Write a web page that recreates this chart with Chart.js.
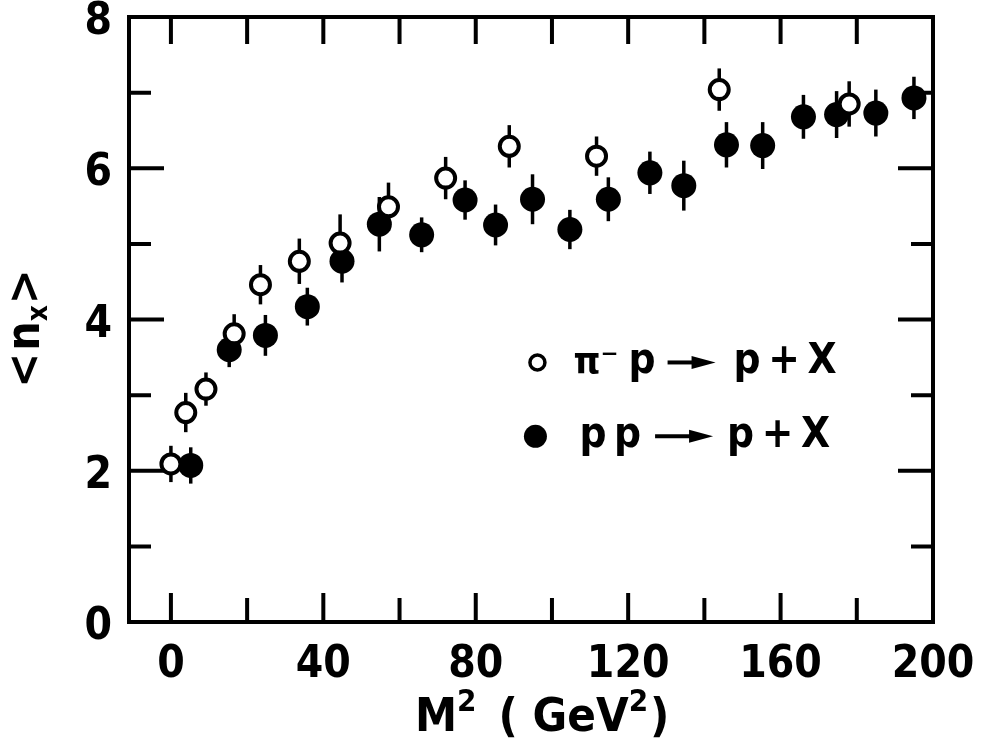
<!DOCTYPE html>
<html>
<head>
<meta charset="utf-8">
<script src="https://cdn.jsdelivr.net/npm/chart.js@4/dist/chart.umd.min.js"></script>
<style>
  body { margin: 0; background: #fff; }
  #wrap { width: 988px; height: 753px; position: relative; }
</style>
</head>
<body>
<div id="wrap"><canvas id="chart"></canvas></div>
<script>
// pi- p -> p + X  (open circles)
const piM2 = [0, 3.9, 9.2, 16.6, 23.5, 33.7, 44.4, 57.1, 72.1, 88.8, 111.7, 143.9, 178];
const piN = [2.09, 2.77, 3.08, 3.81, 4.46, 4.77, 5.01, 5.49, 5.87, 6.29, 6.16, 7.04, 6.85];
const piErr = [0.24, 0.26, 0.22, 0.26, 0.26, 0.3, 0.38, 0.32, 0.28, 0.28, 0.26, 0.28, 0.3];

// p p -> p + X  (filled circles)
const ppM2 = [5.2, 15.3, 24.8, 35.8, 44.9, 54.7, 65.8, 77.2, 85.2, 94.9, 104.7, 114.8, 125.7, 134.6, 145.8, 155.3, 166, 174.7, 185, 195];
const ppN = [2.07, 3.6, 3.79, 4.17, 4.77, 5.26, 5.12, 5.58, 5.25, 5.59, 5.19, 5.59, 5.94, 5.77, 6.31, 6.3, 6.68, 6.71, 6.73, 6.93];
const ppErr = [0.24, 0.23, 0.27, 0.25, 0.28, 0.36, 0.23, 0.26, 0.27, 0.33, 0.26, 0.29, 0.28, 0.33, 0.3, 0.31, 0.29, 0.31, 0.31, 0.28];

// axis ticks and labels
const xTickVals = [0, 20, 40, 60, 80, 100, 120, 140, 160, 180];
const xLabelVals = [0, 40, 80, 120, 160, 200];
const yTickVals = [1, 2, 3, 4, 5, 6, 7];
const yLabelVals = [0, 2, 4, 6, 8];
const legendLabels = ["\u03c0\u207b p \u2192 p + X", "p p \u2192 p + X"];

const FONT = '"DejaVu Sans Condensed", "DejaVu Sans", sans-serif';

function toPoints(xs, ys) {
  return xs.map((x, i) => ({ x: x, y: ys[i] }));
}

// vertical error bars drawn behind the markers
const errorBars = {
  id: "errorBars",
  beforeDatasetsDraw(chart) {
    const ctx = chart.ctx;
    const xs = chart.scales.x, ys = chart.scales.y;
    const sets = [[piM2, piN, piErr], [ppM2, ppN, ppErr]];
    ctx.save();
    ctx.strokeStyle = "#000";
    ctx.lineWidth = 3.5;
    sets.forEach(([mx, ny, er]) => {
      mx.forEach((m, i) => {
        const px = xs.getPixelForValue(m);
        ctx.beginPath();
        ctx.moveTo(px, ys.getPixelForValue(ny[i] - er[i]));
        ctx.lineTo(px, ys.getPixelForValue(ny[i] + er[i]));
        ctx.stroke();
      });
    });
    ctx.restore();
  },
};

// text with raised (sup) or lowered (sub) pieces, returns end x
function drawPieces(ctx, pieces, x, y) {
  pieces.forEach(p => {
    ctx.font = "bold " + p.size + "px " + FONT;
    ctx.fillText(p.t, x, y + (p.dy || 0));
    x += ctx.measureText(p.t).width + (p.gap || 0);
  });
  return x;
}

function arrow(ctx, x0, x1, y) {
  ctx.beginPath();
  ctx.moveTo(x0, y);
  ctx.lineTo(x1 - 18, y);
  ctx.stroke();
  ctx.beginPath();
  ctx.moveTo(x1 - 24, y - 6.5);
  ctx.lineTo(x1, y);
  ctx.lineTo(x1 - 24, y + 6.5);
  ctx.closePath();
  ctx.fill();
}

// frame with inward ticks, tick labels, axis titles and legend
const frame = {
  id: "frame",
  afterDraw(chart) {
    const ctx = chart.ctx;
    const a = chart.chartArea;
    const xs = chart.scales.x, ys = chart.scales.y;
    ctx.save();
    ctx.strokeStyle = "#000";
    ctx.fillStyle = "#000";
    ctx.lineWidth = 4;
    ctx.strokeRect(a.left, a.top, a.right - a.left, a.bottom - a.top);

    // x ticks top and bottom
    xTickVals.forEach(v => {
      const px = xs.getPixelForValue(v);
      const len = v % 40 === 0 ? 29 : 24;
      ctx.beginPath();
      ctx.moveTo(px, a.bottom); ctx.lineTo(px, a.bottom - len);
      ctx.moveTo(px, a.top); ctx.lineTo(px, a.top + 27);
      ctx.stroke();
    });
    // y ticks left and right
    yTickVals.forEach(v => {
      const py = ys.getPixelForValue(v);
      const len = v % 2 === 0 ? 35 : 22;
      ctx.beginPath();
      ctx.moveTo(a.left, py); ctx.lineTo(a.left + len, py);
      ctx.moveTo(a.right, py); ctx.lineTo(a.right - len, py);
      ctx.stroke();
    });

    // tick labels
    ctx.font = "bold 44px " + FONT;
    ctx.textAlign = "center";
    ctx.textBaseline = "alphabetic";
    xLabelVals.forEach(v => {
      ctx.fillText(String(v), xs.getPixelForValue(v), a.bottom + 55);
    });
    ctx.textAlign = "right";
    yLabelVals.forEach(v => {
      ctx.fillText(String(v), a.left - 17, ys.getPixelForValue(v) + 17);
    });

    // x title: M^2 ( GeV^2 )
    ctx.textAlign = "left";
    drawPieces(ctx, [
      { t: "M", size: 47 },
      { t: "2", size: 31, dy: -20, gap: 22 },
      { t: "( GeV", size: 47 },
      { t: "2", size: 31, dy: -20, gap: 2 },
      { t: ")", size: 47 },
    ], a.left + 286, a.bottom + 109);

    // y title: <n_x>  (rotated, subscript x)
    ctx.save();
    ctx.translate(43, (a.top + a.bottom) / 2 + 10);
    ctx.rotate(-Math.PI / 2);
    drawPieces(ctx, [
      { t: "<", size: 46, gap: 2 },
      { t: "n", size: 46 },
      { t: "x", size: 28, dy: 8, gap: 1 },
      { t: ">", size: 46 },
    ], -58, -4);
    ctx.restore();

    // legend
    const lx = a.left + (a.right - a.left) * 0.508;
    const ly1 = a.top + (a.bottom - a.top) * 0.571;
    const ly2 = a.top + (a.bottom - a.top) * 0.693;
    ctx.lineWidth = 3.5;
    ctx.fillStyle = "#fff";
    ctx.beginPath();
    ctx.arc(lx, ly1, 7.5, 0, Math.PI * 2);
    ctx.fill(); ctx.stroke();
    ctx.fillStyle = "#000";
    ctx.beginPath();
    ctx.arc(lx - 2, ly2, 11.5, 0, Math.PI * 2);
    ctx.fill();

    ctx.lineWidth = 4;
    const parts1 = legendLabels[0].split(" \u2192 ");
    const parts2 = legendLabels[1].split(" \u2192 ");
    // line 1: pi- p -> p + X
    let ex = drawPieces(ctx, [
      { t: "\u03c0", size: 38 },
      { t: "\u207b", size: 38, gap: 10 },
      { t: parts1[0].split(" ")[1], size: 42 },
    ], lx + 36, ly1 + 11);
    arrow(ctx, ex + 12, ex + 60, ly1);
    drawPieces(ctx, [{ t: parts1[1].replace(/ /g, "\u2009"), size: 42 }], ex + 78, ly1 + 11);
    // line 2: p p -> p + X
    ex = drawPieces(ctx, [{ t: parts2[0].replace(" ", "\u2009"), size: 42 }], lx + 42, ly2 + 11);
    arrow(ctx, ex + 14, ex + 72, ly2);
    drawPieces(ctx, [{ t: parts2[1].replace(/ /g, "\u2009"), size: 42 }], ex + 86, ly2 + 11);
    ctx.restore();
  },
};

const ctx = document.getElementById("chart").getContext("2d");
new Chart(ctx, {
  type: "scatter",
  data: {
    datasets: [
      {
        label: legendLabels[0],
        data: toPoints(piM2, piN),
        pointRadius: 9.5,
        pointBorderWidth: 4,
        pointBackgroundColor: "#fff",
        pointBorderColor: "#000",
      },
      {
        label: legendLabels[1],
        data: toPoints(ppM2, ppN),
        pointRadius: 12.5,
        pointBorderWidth: 0,
        pointBackgroundColor: "#000",
        pointBorderColor: "#000",
      },
    ],
  },
  options: {
    responsive: true,
    maintainAspectRatio: false,
    animation: false,
    layout: { padding: { left: 129, right: 55, top: 17, bottom: 131 } },
    plugins: {
      legend: { display: false },
      tooltip: { enabled: false },
    },
    scales: {
      x: { type: "linear", min: -11, max: 200, display: false },
      y: { type: "linear", min: 0, max: 8, display: false },
    },
  },
  plugins: [errorBars, frame],
});
</script>
</body>
</html>
